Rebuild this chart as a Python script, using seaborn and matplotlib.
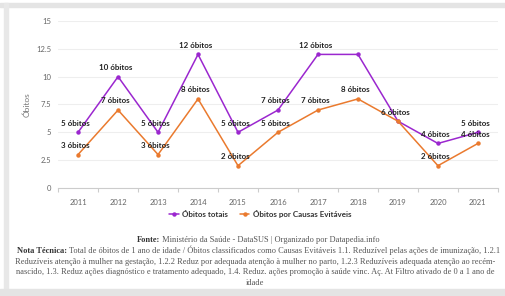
import matplotlib
matplotlib.use("Agg")
import matplotlib.pyplot as plt
from matplotlib.patches import Rectangle
from matplotlib.ticker import FixedLocator
import seaborn as sns
import pandas as pd

# data
anos = [2011, 2012, 2013, 2014, 2015, 2016, 2017, 2018, 2019, 2020, 2021]
obitos_totais = [5, 10, 5, 12, 5, 7, 12, 12, 6, 4, 5]
obitos_evitaveis = [3, 7, 3, 8, 2, 5, 7, 8, 6, 2, 4]
rotulo_totais = [True, True, True, True, True, True, True, False, True, True, True]
rotulo_evitaveis = [True, True, True, True, True, True, True, True, False, True, True]

serie_nomes = ["Óbitos totais", "Óbitos por Causas Evitáveis"]
cores = {"Óbitos totais": "#9b27cf", "Óbitos por Causas Evitáveis": "#ea7a2e"}

df = pd.DataFrame({
    "Ano": anos * 2,
    "Óbitos": obitos_totais + obitos_evitaveis,
    "Série": [serie_nomes[0]] * len(anos) + [serie_nomes[1]] * len(anos),
})

sns.set_theme(style="white")
plt.rcParams["font.family"] = ["Lato", "DejaVu Sans"]

fig = plt.figure(figsize=(5.05, 2.96), dpi=100)
ax = fig.add_axes([0.115, 0.365, 0.871, 0.564])

sns.lineplot(data=df, x="Ano", y="Óbitos", hue="Série", palette=cores,
             marker="o", markersize=3.2, markeredgewidth=0, linewidth=1.1,
             ax=ax, legend=True)

ax.set_xlim(2010.5, 2021.5)
ax.set_ylim(0, 15)
ax.set_yticks([0, 2.5, 5, 7.5, 10, 12.5, 15])
ax.set_yticklabels(["0", "2.5", "5", "7.5", "10", "12.5", "15"])
ax.set_xticks(anos)
ax.set_xticklabels([str(a) for a in anos])
ax.xaxis.set_minor_locator(FixedLocator([a + 0.5 for a in [2010] + anos]))
ax.tick_params(axis="x", which="major", length=0, labelsize=5.5, labelcolor="#666666", pad=8)
ax.tick_params(axis="x", which="minor", length=3, color="#cccccc", width=0.8, bottom=True)
ax.tick_params(axis="y", length=0, labelsize=5.5, labelcolor="#666666", pad=5)
ax.grid(axis="y", color="#eeeeee", linewidth=0.8)
for s in ["top", "right", "left"]:
    ax.spines[s].set_visible(False)
ax.spines["bottom"].set_color("#cccccc")
ax.spines["bottom"].set_linewidth(0.8)
ax.set_xlabel("")
ax.set_ylabel("Óbitos", fontsize=6, color="#777777", labelpad=4)

for x, y, show in zip(anos, obitos_totais, rotulo_totais):
    if show:
        ax.annotate(f"{y} óbitos", (x, y), xytext=(-2, 4), textcoords="offset points",
                    ha="center", va="bottom", fontsize=5.8, fontweight="bold", color="#222222")
for x, y, show in zip(anos, obitos_evitaveis, rotulo_evitaveis):
    if show:
        ax.annotate(f"{y} óbitos", (x, y), xytext=(-2, 4), textcoords="offset points",
                    ha="center", va="bottom", fontsize=5.8, fontweight="bold", color="#222222")

leg = ax.legend(loc="center", bbox_to_anchor=(0.515, 0.277), bbox_transform=fig.transFigure,
                ncol=2, frameon=False, fontsize=5.8, handlelength=1.2, handletextpad=0.4,
                columnspacing=1.5)
for t in leg.get_texts():
    t.set_fontweight("bold")
    t.set_color("#333333")

# caption
serif = ["Liberation Serif", "DejaVu Serif"]
cap_size = 6.0
t1 = fig.text(0.27, 0.182, "Fonte:", fontsize=cap_size, fontweight="bold",
              family=serif, color="#333333", va="baseline")
ax.annotate(" Ministério da Saúde - DataSUS | Organizado por Datapedia.info",
            xy=(1, 0), xycoords=t1, va="bottom", fontsize=cap_size, family=serif,
            color="#555555", annotation_clip=False)

t2 = fig.text(0.034, 0.145, "Nota Técnica:", fontsize=cap_size, fontweight="bold",
              family=serif, color="#333333", va="baseline")
ax.annotate(" Total de óbitos de 1 ano de idade / Óbitos classificados como Causas Evitáveis 1.1. "
            "Reduzível pelas ações de imunização, 1.2.1",
            xy=(1, 0), xycoords=t2, va="bottom", fontsize=cap_size, family=serif,
            color="#555555", annotation_clip=False)
linhas = [
    "Reduzíveis atenção à mulher na gestação, 1.2.2 Reduz por adequada atenção à mulher no parto, "
    "1.2.3 Reduzíveis adequada atenção ao recém-",
    "nascido, 1.3. Reduz ações diagnóstico e tratamento adequado, 1.4. Reduz. ações promoção à "
    "saúde vinc. Aç. At Filtro ativado de 0 a 1 ano de",
    "idade",
]
for i, linha in enumerate(linhas):
    fig.text(0.505, 0.109 - i * 0.036, linha, fontsize=cap_size, family=serif,
             color="#555555", ha="center", va="baseline")

# card frame
fig.patches.append(Rectangle((0, 0.976), 1, 0.014, transform=fig.transFigure,
                             color="#e4e4e4", zorder=-1))
fig.patches.append(Rectangle((0.008, 0.0), 0.008, 0.99, transform=fig.transFigure,
                             color="#e8e8e8", zorder=-1))
fig.patches.append(Rectangle((0, 0.0), 1, 0.022, transform=fig.transFigure,
                             color="#e4e4e4", zorder=-1))

fig.savefig("out.png", dpi=100)
